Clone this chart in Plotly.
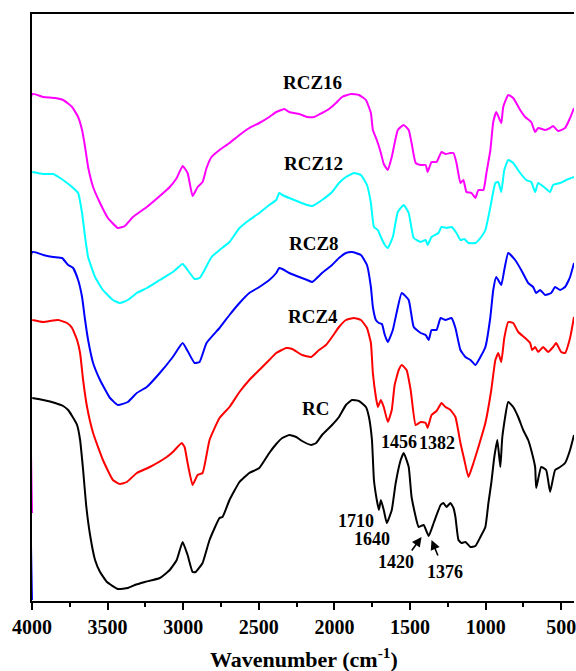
import plotly.graph_objects as go

# ---- data (wavenumber in cm-1, intensity in arbitrary offset units) ----
wn_rc = [3998, 3926, 3847, 3794, 3761, 3735, 3702, 3682, 3662, 3642, 3616, 3583, 3550, 3504, 3432, 3366, 3320, 3254, 3155, 3089, 3043, 3004, 2971, 2938, 2918, 2872, 2826, 2760, 2740, 2694, 2628, 2563, 2497, 2431, 2385, 2345, 2299, 2253, 2214, 2154, 2121, 2082, 2016, 1970, 1924, 1884, 1838, 1792, 1772, 1752, 1739, 1720, 1706, 1693, 1674, 1654, 1621, 1595, 1562, 1542, 1509, 1490, 1443, 1410, 1377, 1344, 1298, 1279, 1259, 1233, 1213, 1200, 1180, 1160, 1134, 1101, 1068, 1035, 1002, 982, 963, 943, 923, 903, 890, 851, 818, 785, 752, 719, 699, 673, 666, 633, 600, 574, 541, 508, 475, 442, 416]
t_rc = [202, 200, 197, 194, 190, 184, 175, 160, 130, 95, 65, 40, 28, 18, 11, 12, 15, 18, 22, 30, 40, 58, 45, 28, 28, 37, 60, 82, 83, 100, 118, 127, 132, 147, 156, 162, 165, 163, 159, 155, 157, 165, 175, 183, 195, 200, 199, 193, 183, 160, 120, 100, 90, 100, 90, 77, 90, 117, 140, 147, 133, 103, 73, 75, 64, 77, 95, 97, 93, 97, 92, 83, 60, 57, 58, 53, 54, 63, 73, 97, 117, 143, 160, 133, 163, 198, 193, 183, 170, 160, 150, 133, 112, 133, 130, 108, 130, 133, 137, 150, 165]

wn_rcz4 = [3998, 3926, 3827, 3768, 3735, 3702, 3682, 3662, 3636, 3596, 3531, 3465, 3419, 3373, 3307, 3221, 3109, 3069, 3010, 2991, 2971, 2938, 2905, 2872, 2826, 2760, 2694, 2628, 2563, 2497, 2431, 2385, 2319, 2279, 2214, 2154, 2102, 2056, 2016, 1970, 1924, 1871, 1825, 1785, 1759, 1746, 1726, 1713, 1693, 1674, 1647, 1621, 1602, 1575, 1555, 1523, 1496, 1463, 1430, 1397, 1384, 1358, 1325, 1292, 1266, 1233, 1200, 1167, 1141, 1114, 1081, 1048, 1002, 963, 936, 917, 897, 877, 851, 818, 785, 739, 706, 693, 673, 653, 620, 587, 554, 534, 501, 475, 442, 416]
t_rcz4 = [280, 278, 280, 277, 272, 260, 247, 220, 193, 167, 140, 120, 116, 118, 127, 133, 143, 148, 157, 153, 137, 115, 125, 127, 160, 182, 193, 208, 220, 230, 240, 247, 252, 251, 245, 243, 250, 255, 263, 273, 280, 282, 280, 272, 257, 227, 203, 193, 200, 193, 178, 190, 215, 230, 235, 230, 210, 175, 178, 177, 172, 185, 189, 197, 193, 190, 183, 157, 140, 123, 137, 153, 177, 210, 240, 247, 238, 262, 278, 277, 268, 262, 257, 250, 253, 248, 253, 248, 253, 257, 248, 247, 262, 283]

wn_rcz8 = [4000, 3998, 3926, 3860, 3801, 3761, 3728, 3695, 3669, 3649, 3629, 3596, 3550, 3484, 3432, 3366, 3307, 3241, 3155, 3069, 3004, 2971, 2925, 2892, 2846, 2760, 2694, 2628, 2563, 2497, 2431, 2385, 2365, 2345, 2299, 2233, 2180, 2147, 2082, 2016, 1970, 1924, 1884, 1825, 1785, 1759, 1746, 1726, 1706, 1686, 1667, 1647, 1614, 1595, 1555, 1509, 1476, 1430, 1397, 1377, 1358, 1325, 1298, 1266, 1226, 1200, 1167, 1134, 1101, 1068, 1035, 1002, 969, 950, 930, 897, 877, 851, 805, 765, 719, 686, 666, 640, 607, 567, 541, 508, 475, 442, 416]
t_rcz8 = [0, 348, 345, 343, 342, 335, 332, 320, 303, 280, 260, 237, 220, 202, 195, 198, 207, 213, 227, 243, 257, 249, 237, 238, 257, 272, 285, 297, 307, 313, 320, 327, 332, 331, 327, 323, 320, 318, 327, 335, 342, 347, 348, 345, 335, 313, 293, 280, 277, 276, 265, 258, 270, 283, 307, 300, 273, 267, 265, 260, 270, 270, 282, 280, 282, 272, 250, 243, 240, 235, 243, 253, 283, 310, 323, 315, 330, 347, 340, 330, 317, 313, 307, 310, 305, 307, 313, 310, 313, 323, 337]

wn_rcz12 = [3998, 3926, 3860, 3814, 3768, 3735, 3695, 3669, 3649, 3629, 3583, 3531, 3465, 3419, 3366, 3307, 3241, 3155, 3069, 3004, 2971, 2925, 2892, 2859, 2813, 2760, 2694, 2628, 2563, 2497, 2431, 2385, 2365, 2345, 2299, 2233, 2180, 2147, 2082, 2016, 1970, 1924, 1871, 1825, 1785, 1759, 1739, 1713, 1693, 1667, 1647, 1614, 1581, 1542, 1509, 1476, 1430, 1397, 1384, 1358, 1312, 1292, 1259, 1226, 1193, 1167, 1141, 1114, 1068, 1035, 1002, 969, 936, 917, 897, 877, 851, 818, 772, 732, 699, 673, 653, 607, 574, 554, 508, 468, 416]
t_rcz12 = [428, 426, 426, 422, 417, 413, 407, 387, 363, 343, 323, 310, 300, 297, 300, 307, 312, 320, 328, 336, 330, 321, 322, 330, 343, 350, 358, 372, 380, 387, 395, 400, 407, 405, 402, 398, 395, 394, 400, 408, 417, 423, 427, 425, 415, 397, 373, 370, 363, 355, 352, 363, 388, 395, 387, 362, 358, 360, 355, 363, 367, 373, 372, 373, 367, 360, 361, 357, 357, 362, 370, 393, 417, 418, 408, 430, 440, 437, 427, 420, 418, 408, 417, 412, 408, 415, 417, 420, 423]

wn_rcz16 = [4000, 3998, 3926, 3847, 3794, 3735, 3695, 3669, 3649, 3629, 3596, 3550, 3498, 3432, 3386, 3333, 3241, 3155, 3089, 3043, 3004, 2971, 2938, 2905, 2872, 2846, 2813, 2760, 2694, 2628, 2563, 2497, 2431, 2385, 2352, 2332, 2299, 2233, 2180, 2134, 2082, 2036, 1990, 1950, 1891, 1838, 1792, 1759, 1746, 1720, 1693, 1674, 1647, 1621, 1581, 1542, 1509, 1490, 1463, 1430, 1397, 1384, 1358, 1325, 1292, 1266, 1233, 1213, 1193, 1167, 1147, 1127, 1094, 1068, 1048, 1015, 995, 969, 950, 930, 897, 884, 851, 818, 772, 739, 699, 673, 653, 607, 574, 554, 521, 475, 442, 416]
t_rcz16 = [87, 506, 503, 502, 500, 493, 483, 470, 453, 433, 413, 397, 382, 372, 374, 383, 393, 404, 413, 422, 434, 427, 404, 413, 418, 432, 443, 450, 457, 465, 472, 477, 483, 488, 490, 491, 488, 486, 483, 483, 487, 491, 497, 503, 506, 505, 500, 487, 470, 460, 447, 436, 430, 443, 470, 475, 470, 457, 437, 435, 435, 428, 438, 438, 448, 446, 447, 447, 437, 417, 420, 408, 407, 402, 410, 410, 427, 450, 478, 488, 477, 493, 505, 502, 490, 483, 478, 468, 472, 470, 472, 474, 469, 472, 482, 492]

series_names = ["RC", "RCZ4", "RCZ8", "RCZ12", "RCZ16"]
series_colors = ["#000000", "#ff0000", "#0000ff", "#00ffff", "#ff00ff"]

# curve labels: (text, wavenumber, intensity)
label_text = ["RCZ16", "RCZ12", "RCZ8", "RCZ4", "RC"]
label_wn = [2148, 2141, 2135, 2141, 2128]
label_y = [518, 437, 357, 284, 192]

# band labels
band_text = ["1710", "1640", "1456", "1382", "1420", "1376"]
band_wn = [1858, 1753, 1575, 1325, 1595, 1266]
band_y = [79, 61, 158, 157, 38, 28]

# arrows: head (wn, y) and tail (wn, y)
arrow_head_wn = [1424, 1358]
arrow_head_y = [63, 60]
arrow_tail_wn = [1496, 1312]
arrow_tail_y = [48, 43]

tick_vals = [4000, 3500, 3000, 2500, 2000, 1500, 1000, 500]

FONT = "Liberation Serif"

fig = go.Figure()
xs = [wn_rc, wn_rcz4, wn_rcz8, wn_rcz12, wn_rcz16]
ys = [t_rc, t_rcz4, t_rcz8, t_rcz12, t_rcz16]
for name, color, x, y in zip(series_names, series_colors, xs, ys):
    fig.add_trace(go.Scatter(x=x, y=y, mode="lines", name=name,
                             line=dict(color=color, width=2, shape="spline", smoothing=0.4),
                             showlegend=False, hoverinfo="skip"))

annotations = []
for t, w, yv in zip(label_text, label_wn, label_y):
    annotations.append(dict(x=w, y=yv, xref="x", yref="y", text="<b>%s</b>" % t,
                            showarrow=False, font=dict(family=FONT, size=19, color="black")))
for t, w, yv in zip(band_text, band_wn, band_y):
    annotations.append(dict(x=w, y=yv, xref="x", yref="y", text="<b>%s</b>" % t,
                            showarrow=False, font=dict(family=FONT, size=18, color="black")))
for hx, hy, tx, ty in zip(arrow_head_wn, arrow_head_y, arrow_tail_wn, arrow_tail_y):
    annotations.append(dict(x=hx, y=hy, ax=tx, ay=ty, xref="x", yref="y", axref="x", ayref="y",
                            text="", showarrow=True, arrowhead=2, arrowsize=1.2,
                            arrowwidth=1.6, arrowcolor="black"))
annotations.append(dict(x=0.502, y=-0.097, xref="paper", yref="paper",
                        text="<b>Wavenumber (cm<sup>-1</sup>)</b>", showarrow=False,
                        yanchor="middle", font=dict(family=FONT, size=22, color="black")))

fig.update_layout(
    width=576, height=671,
    margin=dict(l=32, r=0, t=14, b=70),
    paper_bgcolor="white", plot_bgcolor="white",
    annotations=annotations,
    xaxis=dict(range=[4000, 416], tickvals=tick_vals, ticktext=[str(v) for v in tick_vals],
               showgrid=False, zeroline=False, showline=True, linecolor="black", linewidth=2,
               mirror=True, ticks="outside", ticklen=7, tickwidth=2, tickcolor="black",
               ticklabeloverflow="allow",
               tickfont=dict(family=FONT, size=20, color="black", weight="bold"),
               minor=dict(dtick=250, tick0=0, ticks="outside", ticklen=4, tickwidth=2,
                          tickcolor="black", showgrid=False)),
    yaxis=dict(range=[-1, 586], showticklabels=False, showgrid=False, zeroline=False,
               showline=True, linecolor="black", linewidth=2, mirror=False, ticks=""),
)

# remove the default page margin so the figure fills the window exactly
fig.write_html("out.html", config={"displayModeBar": False},
               post_script="document.body.style.margin='0px';"
                           "document.body.style.overflow='hidden';")
